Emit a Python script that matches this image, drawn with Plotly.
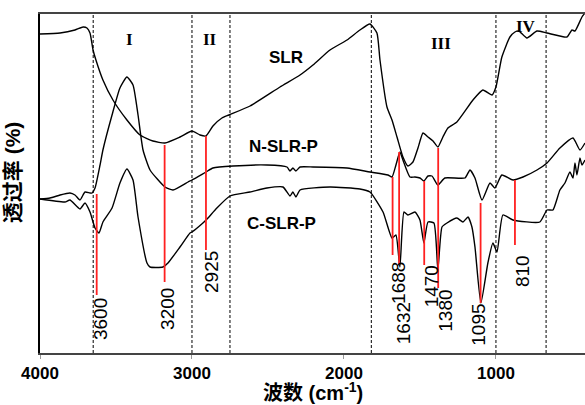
import plotly.graph_objects as go

# ---------------- data (wavenumber cm-1, transmittance a.u.) ----------------
slr_w = [4000, 3868, 3770, 3717, 3691, 3671, 3651, 3632, 3586, 3520, 3428, 3342, 3257, 3178,
         3079, 3000, 2947, 2908, 2862, 2803, 2757, 2618, 2421, 2289, 2204, 2092, 1980, 1895,
         1829, 1783, 1763, 1717, 1684, 1651, 1612, 1579, 1546, 1513, 1480, 1447, 1414, 1382,
         1349, 1316, 1257, 1151, 1086, 1026, 1000, 961, 908, 875, 849, 796, 730, 664, 533,
         500, 480, 434, 414]
slr_t = [319, 320, 323, 326, 325, 320, 303, 293, 273, 253, 233, 218, 212, 210,
         216, 222, 218, 217, 227, 235, 238, 247, 266, 278, 288, 303, 313, 323,
         329, 320, 293, 246, 233, 216, 196, 187, 191, 205, 220, 216, 212, 206,
         216, 225, 231, 253, 263, 258, 266, 296, 316, 321, 322, 315, 322, 320, 316,
         323, 322, 336, 340]

nslrp_w = [4000, 3934, 3868, 3803, 3770, 3737, 3704, 3671, 3658, 3638, 3605, 3586, 3526, 3474,
           3428, 3388, 3355, 3322, 3276, 3178, 3125, 3026, 3000, 2908, 2862, 2730, 2507, 2375,
           2355, 2336, 2316, 2289, 2204, 1980, 1829, 1711, 1684, 1658, 1632, 1612, 1566, 1533,
           1500, 1474, 1447, 1421, 1382, 1336, 1204, 1171, 1138, 1092, 1039, 1007, 961, 888,
           822, 730, 664, 579, 493, 447, 414]
nslrp_t = [154, 155, 158, 160, 158, 153, 161, 160, 160, 165, 188, 203, 238, 265,
           276, 268, 238, 203, 183, 166, 163, 171, 173, 181, 185, 187, 188, 186,
           182, 185, 182, 186, 186, 185, 181, 178, 176, 188, 201, 193, 176, 176,
           175, 172, 177, 177, 168, 175, 175, 183, 175, 153, 170, 165, 178, 173,
           176, 183, 190, 205, 215, 203, 210]

cslrp_w = [4000, 3836, 3803, 3737, 3704, 3671, 3638, 3612, 3586, 3526, 3474, 3428, 3388, 3355,
           3296, 3276, 3191, 3158, 3079, 3013, 3000, 2928, 2901, 2836, 2750, 2618, 2507, 2401,
           2355, 2336, 2316, 2289, 2092, 1895, 1829, 1743, 1684, 1658, 1632, 1605, 1579, 1533,
           1500, 1474, 1447, 1408, 1382, 1355, 1322, 1257, 1217, 1184, 1158, 1138, 1099, 1053,
           1020, 993, 954, 888, 711, 664, 625, 579, 546, 513, 493, 480, 467, 447, 434, 414]
cslrp_t = [154, 151, 153, 144, 150, 141, 125, 120, 131, 145, 170, 184, 173, 136,
           90, 86, 86, 90, 106, 120, 121, 130, 134, 145, 157, 161, 165, 166,
           157, 161, 156, 163, 166, 164, 161, 141, 115, 118, 86, 141, 138, 141,
           133, 110, 131, 130, 83, 126, 130, 135, 131, 136, 126, 106, 50, 90,
           110, 101, 138, 133, 131, 143, 143, 163, 170, 181, 175, 190, 178, 195, 188, 193]

# region boundaries (dashed lines)
region_bounds = [3650, 3000, 2750, 1820, 1000, 670]
region_names = ["I", "II", "III", "IV"]
region_label_w = [3408, 2882, 1362, 803]
region_label_t = [314, 314, 310, 327]

# marked peaks: position, line top, line bottom, label
peak_w = [3627, 3180, 2908, 1680, 1637, 1472, 1380, 1101, 875]
peak_top = [159, 208, 217, 176, 201, 172, 205, 150, 173]
peak_bot = [58, 71, 103, 98, 88, 88, 65, 50, 108]
peak_labels = ["3600", "3200", "2925", "1688", "1632", "1470", "1380", "1095", "810"]
peak_label_w = [3605, 3165, 2875, 1645, 1610, 1425, 1337, 1120, 828]
peak_label_t = [34, 44, 81, 70, 30, 67, 42, 28, 82]

series_names = ["SLR", "N-SLR-P", "C-SLR-P"]
series_label_w = [2382, 2401, 2414]
series_label_t = [296, 207, 130]

x_ticks = [4000, 3000, 2000, 1000]

# ---------------- figure ----------------
fig = go.Figure()
for w, t in [(slr_w, slr_t), (nslrp_w, nslrp_t), (cslrp_w, cslrp_t)]:
    fig.add_trace(go.Scatter(x=w, y=t, mode="lines",
                             line=dict(color="black", width=1.4, shape="spline", smoothing=0.5),
                             showlegend=False, hoverinfo="skip"))

shapes = []
for b in region_bounds:
    shapes.append(dict(type="line", xref="x", yref="paper", x0=b, x1=b, y0=0, y1=1,
                       line=dict(color="black", width=1, dash="3px,2px"), layer="below"))
for w, t0, t1 in zip(peak_w, peak_top, peak_bot):
    shapes.append(dict(type="line", xref="x", yref="y", x0=w, x1=w, y0=t1, y1=t0,
                       line=dict(color="#ff2020", width=1.8)))

ann = []
for n, w, t in zip(region_names, region_label_w, region_label_t):
    ann.append(dict(x=w, y=t, xref="x", yref="y", text=n, showarrow=False,
                    font=dict(family="Liberation Serif, Times New Roman, serif", size=17,
                              color="black", weight="bold")))
for n, w, t in zip(peak_labels, peak_label_w, peak_label_t):
    ann.append(dict(x=w, y=t, xref="x", yref="y", text=n, showarrow=False, textangle=-90,
                    font=dict(family="Liberation Sans, Arial, sans-serif", size=19, color="black")))
for n, w, t in zip(series_names, series_label_w, series_label_t):
    ann.append(dict(x=w, y=t, xref="x", yref="y", text="<b>%s</b>" % n, showarrow=False,
                    font=dict(family="Liberation Sans, Arial, sans-serif", size=17, color="black")))

cjk = "Liberation Sans, Arial, Noto Sans CJK SC, sans-serif"
ann.append(dict(x=0.501, y=-0.072, xref="paper", yref="paper", yanchor="top",
                text="<b>波数 (cm<sup>-1</sup>)</b>", showarrow=False,
                font=dict(family=cjk, size=20, color="black")))
ann.append(dict(x=-0.074, y=0.534, xref="paper", yref="paper", textangle=-90,
                text="<b>透过率 (%)</b>", showarrow=False,
                font=dict(family=cjk, size=21, color="black")))

fig.update_layout(
    width=585, height=405,
    margin=dict(l=40, r=0, t=14, b=52),
    paper_bgcolor="white", plot_bgcolor="white",
    shapes=shapes, annotations=ann,
    xaxis=dict(range=[4000, 414], tickvals=x_ticks, ticktext=[str(v) for v in x_ticks],
               showgrid=False, zeroline=False, showline=True, linecolor="#444", linewidth=2,
               mirror=True, ticks="outside", ticklen=4, tickcolor="#999", tickwidth=1,
               tickfont=dict(family="Liberation Sans, Arial, sans-serif", size=17,
                             color="black", weight="bold")),
    yaxis=dict(range=[0, 339], showgrid=False, zeroline=False, showticklabels=False,
               showline=True, linecolor="black", linewidth=1.5, ticks=""),
)

fig.write_html("out.html")
